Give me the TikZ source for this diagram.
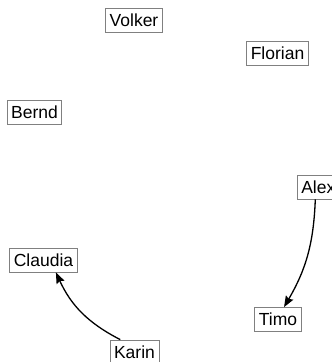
\documentclass[tikz,border=0pt]{standalone}
\usepackage{fontspec}
\setmainfont{Liberation Sans}
\usetikzlibrary{arrows.meta}
\tikzset{
  person/.style={draw=black!50, line width=0.8pt, fill=white, font=\fontsize{17.5}{20}\selectfont,
    inner xsep=4pt, inner ysep=5.75pt, text height=12.5pt, text depth=0pt, anchor=center},
  link/.style={-{Stealth[length=11pt,width=8.5pt,inset=1.5pt]}, line width=1.3pt, black}
}
\begin{document}
\begin{tikzpicture}[x=1pt,y=-1pt]
\useasboundingbox (0,0) rectangle (332,362);
\node[person] (volker) at (134,20) {Volker};
\node[person] (florian) at (277.5,53) {Florian};
\node[person] (bernd) at (34.5,112.5) {Bernd};
\node[person] (alex) at (318.3,187) {Alex};
\node[person] (claudia) at (43.5,260) {Claudia};
\node[person] (timo) at (278,319.5) {Timo};
\node[person] (karin) at (134.5,352) {Karin};
\draw[link] ([xshift=-3pt]alex.south) to[bend left=14] (timo.64);
\draw[link] (karin.139) to[bend left=19] (claudia.-45);
\end{tikzpicture}
\end{document}
